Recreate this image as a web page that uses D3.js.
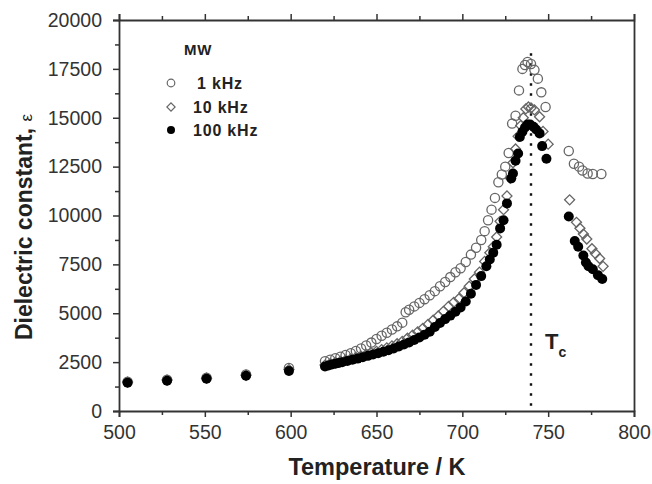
<!DOCTYPE html>
<html>
<head>
<meta charset="utf-8">
<script src="https://cdn.jsdelivr.net/npm/d3@7"></script>
<style>
  body { margin: 0; background: #fff; }
  svg { display: block; font-family: "Liberation Sans", Arial, sans-serif; }
</style>
</head>
<body>
<div id="chart"></div>
<script>
// temperatures (K) and dielectric constant for each frequency
const temp1k = [505,528,551,574,599,620,623,626,629,632,635,638,641,644,647,650,653,656,659,662,665,667,669,672,675,678,681,684,687,690,693,696,699,702,705,708,711,713,715,717,719,721,723,725,727,729,731,733,735,736.5,738,740,742,744,746,748.5,762,765,768,770,773,776,781];
const eps1k = [1500,1600,1700,1870,2200,2550,2620,2700,2780,2870,2960,3070,3200,3350,3500,3680,3850,4000,4170,4330,4520,5050,5180,5350,5530,5720,5920,6130,6380,6600,6850,7100,7300,7620,8000,8350,8750,9200,9760,10300,10900,11700,12100,12500,13200,14700,15100,16400,17500,17700,17850,17750,17450,17000,16300,15550,13300,12650,12500,12300,12150,12120,12120];

const temp10k = [505,528,551,574,599,620,623,626,629,632,635,638,641,644,647,650,653,656,659,662,665,668,671,674,677,680,683,686,689,692,695,698,701,704,707,710,713,716,718,720,722,724,726,728,729.5,731,732.5,734,735.5,737,738.5,740,742,745,747,750,762.5,766.5,768.5,770.5,772.5,775.5,777.5,780,782];
const eps10k = [1480,1580,1680,1830,2120,2350,2420,2480,2540,2600,2670,2740,2810,2890,2970,3050,3140,3230,3330,3440,3560,3720,3880,4050,4230,4430,4640,4860,5100,5350,5560,5740,6050,6380,6750,7100,7650,8100,8400,8900,9700,10300,11000,11900,12700,13400,14050,14600,15000,15450,15550,15500,15400,15050,14300,13650,10800,9650,9350,9050,8800,8300,8050,7800,7400];

const temp100k = [505,528,551,574,599,620,622,624,626,628,630,633,636,639,642,645,648,651,654,657,660,663,666,669,672,675,678,681,684,687,690,693,696,699,702,705,708,711,714,716,718,720,722,724,726,728.5,729.5,731,732.5,733.5,735,736.5,738,739.5,741.5,743,745,746.5,749,762,765.5,767.5,770.5,772,773.5,776,779,781.5];
const eps100k = [1450,1550,1650,1800,2050,2280,2330,2380,2420,2460,2500,2560,2620,2680,2750,2820,2890,2960,3030,3110,3200,3300,3400,3510,3630,3760,3900,4050,4300,4500,4700,4880,5080,5300,5600,6000,6450,6900,7400,7750,8100,8500,9340,9760,10620,11900,12150,12800,13170,14020,14280,14500,14650,14650,14540,14400,14200,13550,12900,9950,8700,8400,7950,7600,7400,7250,6950,6750];

const xTicks = [500,550,600,650,700,750,800];
const yTicks = [0,2500,5000,7500,10000,12500,15000,17500,20000];
const legendLabels = ["1 kHz", "10 kHz", "100 kHz"];
const tcTemp = 740;
const tcTop = 18300;

const width = 652, height = 484;
const margin = {top: 20, right: 18, bottom: 73, left: 119};

const svg = d3.select("#chart").append("svg")
    .attr("width", width)
    .attr("height", height);

const x = d3.scaleLinear().domain([500, 800]).range([margin.left, width - margin.right]);
const y = d3.scaleLinear().domain([0, 20000]).range([height - margin.bottom, margin.top]);

const axisColor = "#333";

// axes
const xMinor = d3.range(525, 800, 50);
const yMinor = d3.range(1250, 20000, 2500);

function styleAxis(g) {
    g.select(".domain").attr("stroke", axisColor).attr("stroke-width", 1.8);
    g.selectAll(".tick line").attr("stroke", axisColor).attr("stroke-width", 1.5);
    g.selectAll(".tick text").attr("fill", "#333").style("font-size", "19.5px");
}

svg.append("g")
    .attr("transform", `translate(0,${y(0)})`)
    .call(d3.axisBottom(x).tickValues(xTicks).tickFormat(d3.format("d")).tickSizeOuter(0).tickSize(6).tickPadding(8))
    .call(styleAxis);
svg.append("g")
    .attr("transform", `translate(0,${y(0)})`)
    .call(d3.axisBottom(x).tickValues(xMinor).tickFormat("").tickSize(4))
    .call(g => g.select(".domain").remove())
    .call(styleAxis);

svg.append("g")
    .attr("transform", `translate(0,${y(20000)})`)
    .call(d3.axisTop(x).tickValues(xTicks).tickFormat("").tickSizeOuter(0).tickSize(6))
    .call(styleAxis);
svg.append("g")
    .attr("transform", `translate(0,${y(20000)})`)
    .call(d3.axisTop(x).tickValues(xMinor).tickFormat("").tickSize(4))
    .call(g => g.select(".domain").remove())
    .call(styleAxis);

svg.append("g")
    .attr("transform", `translate(${x(500)},0)`)
    .call(d3.axisLeft(y).tickValues(yTicks).tickFormat(d3.format("d")).tickSizeOuter(0).tickSize(6).tickPadding(11))
    .call(styleAxis);
svg.append("g")
    .attr("transform", `translate(${x(500)},0)`)
    .call(d3.axisLeft(y).tickValues(yMinor).tickFormat("").tickSize(4))
    .call(g => g.select(".domain").remove())
    .call(styleAxis);

svg.append("g")
    .attr("transform", `translate(${x(800)},0)`)
    .call(d3.axisRight(y).tickValues([]).tickSizeOuter(0))
    .call(styleAxis);

// Tc dotted line
svg.append("line")
    .attr("x1", x(tcTemp)).attr("x2", x(tcTemp))
    .attr("y1", y(tcTop)).attr("y2", y(0))
    .attr("stroke", "#111")
    .attr("stroke-width", 2.4)
    .attr("stroke-dasharray", "2.4,7.6");

// markers
const markStroke = "#666";
const diamond = d3.symbol().type(d3.symbolSquare).size(50);

const zip = (ts, es) => ts.map((t, i) => ({t, e: es[i]}));

svg.append("g").selectAll("circle")
    .data(zip(temp1k, eps1k))
    .join("circle")
    .attr("cx", d => x(d.t))
    .attr("cy", d => y(d.e))
    .attr("r", 4.6)
    .attr("fill", "none")
    .attr("stroke", markStroke)
    .attr("stroke-width", 1.3);

svg.append("g").selectAll("path")
    .data(zip(temp10k, eps10k))
    .join("path")
    .attr("d", diamond)
    .attr("transform", d => `translate(${x(d.t)},${y(d.e)}) rotate(45)`)
    .attr("fill", "none")
    .attr("stroke", markStroke)
    .attr("stroke-width", 1.3);

svg.append("g").selectAll("circle")
    .data(zip(temp100k, eps100k))
    .join("circle")
    .attr("cx", d => x(d.t))
    .attr("cy", d => y(d.e))
    .attr("r", 5)
    .attr("fill", "#000");

// legend
const legend = svg.append("g");
legend.append("text")
    .attr("x", 184).attr("y", 55)
    .style("font-size", "15px").style("font-weight", "bold")
    .style("letter-spacing", "0.8px")
    .attr("fill", "#222")
    .text("MW");

const legendY = [83, 107, 130];
legend.append("circle")
    .attr("cx", 171).attr("cy", legendY[0]).attr("r", 3.8)
    .attr("fill", "none").attr("stroke", markStroke).attr("stroke-width", 1.2);
legend.append("path")
    .attr("d", d3.symbol().type(d3.symbolSquare).size(34))
    .attr("transform", `translate(171,${legendY[1]}) rotate(45)`)
    .attr("fill", "none").attr("stroke", markStroke).attr("stroke-width", 1.2);
legend.append("circle")
    .attr("cx", 171).attr("cy", legendY[2]).attr("r", 4)
    .attr("fill", "#000");

legendLabels.forEach((lab, i) => {
    legend.append("text")
        .attr("x", i === 0 ? 197 : 193)
        .attr("y", legendY[i] + 6)
        .style("font-size", "16px").style("font-weight", "bold")
        .style("letter-spacing", "0.8px")
        .attr("fill", "#222")
        .text(lab);
});

// Tc label
const tc = svg.append("text")
    .attr("x", 545).attr("y", 349)
    .attr("fill", "#222")
    .style("font-size", "22px").style("font-weight", "bold");
tc.append("tspan").text("T");
tc.append("tspan").attr("dy", 8).style("font-size", "14px").text("c");

// axis titles
svg.append("text")
    .attr("x", 377)
    .attr("y", 475)
    .attr("text-anchor", "middle")
    .attr("fill", "#222")
    .style("font-size", "23.5px").style("font-weight", "bold")
    .text("Temperature / K");

const yt = svg.append("text")
    .attr("transform", `translate(32,227) rotate(-90)`)
    .attr("text-anchor", "middle")
    .attr("fill", "#222")
    .style("font-size", "23px").style("font-weight", "bold")
    .text("Dielectric constant, ");
yt.append("tspan").style("font-weight", "normal").style("font-size", "17px").text("ε");
</script>
</body>
</html>
